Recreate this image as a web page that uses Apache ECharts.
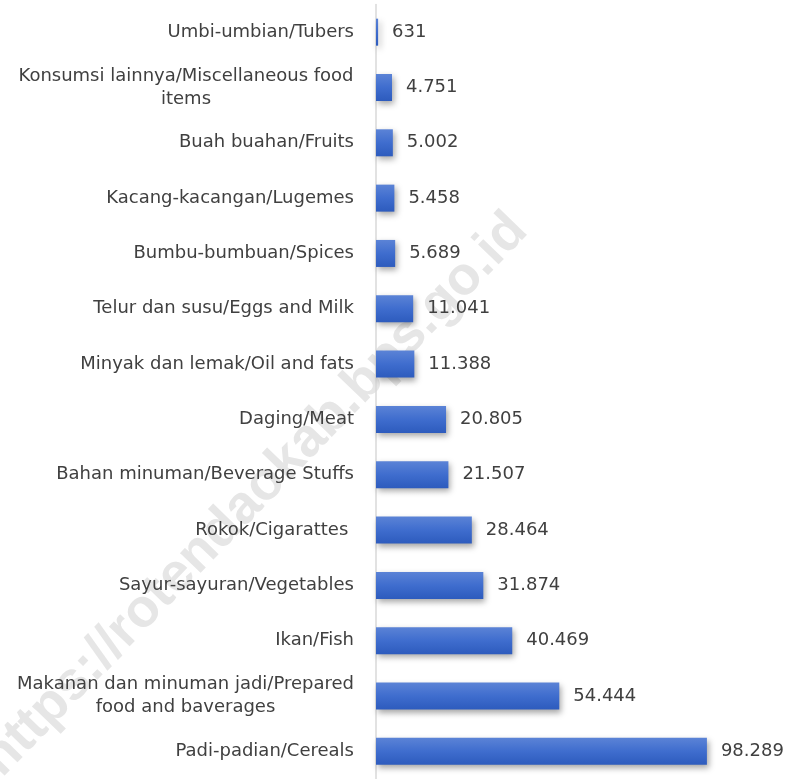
<!DOCTYPE html>
<html>
<head>
<meta charset="utf-8">
<script src="https://cdn.jsdelivr.net/npm/echarts@6/dist/echarts.min.js"></script>
<style>
html,body{margin:0;padding:0;background:#fff;}
#chart{width:787px;height:779px;}
</style>
</head>
<body>
<div id="chart"></div>
<script>
const categories = [
  "Umbi-umbian/Tubers",
  "Konsumsi lainnya/Miscellaneous food\nitems",
  "Buah buahan/Fruits",
  "Kacang-kacangan/Lugemes",
  "Bumbu-bumbuan/Spices",
  "Telur dan susu/Eggs and Milk",
  "Minyak dan lemak/Oil and fats",
  "Daging/Meat",
  "Bahan minuman/Beverage Stuffs",
  "Rokok/Cigarattes ",
  "Sayur-sayuran/Vegetables",
  "Ikan/Fish",
  "Makanan dan minuman jadi/Prepared\nfood and baverages",
  "Padi-padian/Cereals"
];
const values = [631, 4751, 5002, 5458, 5689, 11041, 11388, 20805, 21507, 28464, 31874, 40469, 54444, 98289];
const watermarkText = "https://rotendaokab.bps.go.id";

const FONTNAME = 'DejaVu Sans';
const FONT = '"DejaVu Sans", sans-serif';
const FS = 18;
const canvas = document.createElement('canvas');
const ctx = canvas.getContext('2d');
ctx.font = FS + 'px "' + FONTNAME + '"';
const rich = {};
const labelKeys = {};
let k = 0;
categories.forEach(c => {
  if (c.indexOf('\n') >= 0) {
    const w = Math.max(...c.split('\n').map(l => ctx.measureText(l).width));
    const key = 'm' + (k++);
    rich[key] = {width: Math.ceil(w), align: 'center', fontSize: FS, fontFamily: FONT, color: '#404040', lineHeight: 23};
    labelKeys[c] = key;
  }
});

function fmt(v) {
  return String(v).replace(/\B(?=(\d{3})+(?!\d))/g, '.');
}

const chart = echarts.init(document.getElementById('chart'), null, {renderer: 'canvas'});
chart.setOption({
  backgroundColor: '#ffffff',
  animation: false,
  graphic: [{
    type: 'text',
    z: -100,
    silent: true,
    x: 255, y: 495,
    rotation: Math.PI * 46 / 180,
    style: {
      text: watermarkText,
      font: 'bold 54px "Liberation Sans", Arial, sans-serif',
      fill: '#e6e6e6',
      align: 'center',
      verticalAlign: 'middle'
    }
  }],
  grid: {left: 376, right: 7, top: 4.5, bottom: -4.6, containLabel: false},
  xAxis: {
    type: 'value', min: 0, max: 120000, show: false,
    splitLine: {show: false}
  },
  yAxis: {
    type: 'category',
    inverse: true,
    data: categories,
    z: 5,
    axisLine: {show: true, lineStyle: {color: '#d9d9d9', width: 1.5}},
    axisTick: {show: false},
    axisLabel: {
      margin: 22,
      fontSize: FS,
      fontFamily: FONT,
      color: '#404040',
      lineHeight: 23,
      formatter: function (v) {
        if (labelKeys[v]) {
          return v.split('\n').map(l => '{' + labelKeys[v] + '|' + l + '}').join('\n');
        }
        return v;
      },
      rich: rich
    }
  },
  series: [{
    type: 'bar',
    data: values,
    barWidth: 27,
    z: 5,
    itemStyle: {
      color: new echarts.graphic.LinearGradient(0, 0, 0, 1, [
        {offset: 0, color: '#5b83d6'},
        {offset: 0.5, color: '#3f6dce'},
        {offset: 1, color: '#2d5bbd'}
      ]),
      shadowColor: 'rgba(0,0,0,0.35)',
      shadowBlur: 6,
      shadowOffsetX: 2,
      shadowOffsetY: 3
    },
    label: {
      show: true,
      position: 'right',
      distance: 14,
      fontSize: FS,
      fontFamily: FONT,
      color: '#404040',
      formatter: p => fmt(p.value)
    }
  }]
});
</script>
</body>
</html>
